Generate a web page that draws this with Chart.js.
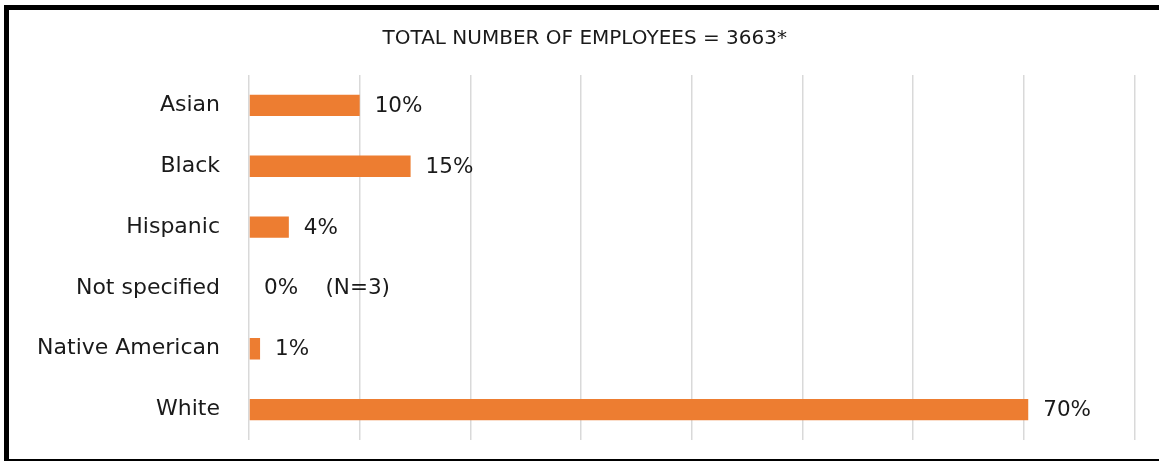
<!DOCTYPE html>
<html>
<head>
<meta charset="utf-8">
<script src="https://cdn.jsdelivr.net/npm/chart.js@4"></script>
<style>
    html, body {
        margin: 0;
        padding: 0;
        background: #ffffff;
        overflow: hidden;
    }
    #wrap {
        position: relative;
        width: 1159px;
        height: 462px;
    }
    #ethnicity {
        display: block;
    }
    #frame {
        position: absolute;
        left: 4px;
        top: 5px;
        right: 0;
        bottom: 1px;
        border-left: 5px solid #000;
        border-top: 5px solid #000;
        border-bottom: 2px solid #000;
        pointer-events: none;
    }
</style>
</head>
<body>
<div id="wrap">
    <canvas id="ethnicity" width="1159" height="462"></canvas>
    <div id="frame"></div>
</div>
<script>
const groups = ['Asian', 'Black', 'Hispanic', 'Not specified', 'Native American', 'White'];
const shares = [10.0, 14.6, 3.6, 0, 1.0, 70.4];
const notes = ['', '', '', '(N=3)', '', ''];
const totalEmployees = 3663;

const labelFont = '"DejaVu Sans", Verdana, sans-serif';

// Writes the percentage (and any note) just past the end of each bar.
const valueLabels = {
    id: 'valueLabels',
    afterDatasetsDraw(chart) {
        const ctx = chart.ctx;
        const meta = chart.getDatasetMeta(0);
        ctx.save();
        ctx.font = '21.5px ' + labelFont;
        ctx.fillStyle = '#1a1a1a';
        ctx.textBaseline = 'middle';
        ctx.textAlign = 'left';
        meta.data.forEach((bar, i) => {
            let text = Math.round(shares[i]) + '%';
            if (notes[i]) {
                text += '    ' + notes[i];
            }
            ctx.fillText(text, bar.x + 15, bar.y + 1);
        });
        ctx.restore();
    }
};

const canvasContext = document.getElementById('ethnicity').getContext('2d');

const chart = new Chart(canvasContext, {
    type: 'bar',
    data: {
        labels: groups,
        datasets: [{
            data: shares,
            backgroundColor: '#ED7D31',
            borderWidth: 0,
            categoryPercentage: 1,
            barPercentage: 0.35
        }]
    },
    options: {
        indexAxis: 'y',
        responsive: false,
        animation: false,
        layout: {
            padding: { left: 35, right: 24.5, top: 0, bottom: 22 }
        },
        scales: {
            x: {
                min: 0,
                max: 80,
                ticks: { display: false, stepSize: 10 },
                grid: { color: '#d9d9d9', lineWidth: 1.5, drawTicks: false },
                border: { display: false },
                afterFit(scale) {
                    scale.height = 0;
                }
            },
            y: {
                grid: { display: false, drawTicks: false },
                border: { display: false },
                ticks: {
                    color: '#1a1a1a',
                    padding: 29,
                    font: { family: labelFont, size: 22 }
                },
                afterFit(scale) {
                    // fixed label column, and no extra room kept for the end labels
                    scale.width = 214;
                    scale.paddingTop = 0;
                    scale.paddingBottom = 0;
                }
            }
        },
        plugins: {
            legend: { display: false },
            tooltip: { enabled: false },
            title: {
                display: true,
                text: 'TOTAL NUMBER OF EMPLOYEES = ' + totalEmployees + '*',
                color: '#1a1a1a',
                font: { family: labelFont, size: 20, weight: 'normal', lineHeight: 1.2 },
                padding: { top: 27, bottom: 24 }
            }
        }
    },
    plugins: [valueLabels]
});
</script>
</body>
</html>
